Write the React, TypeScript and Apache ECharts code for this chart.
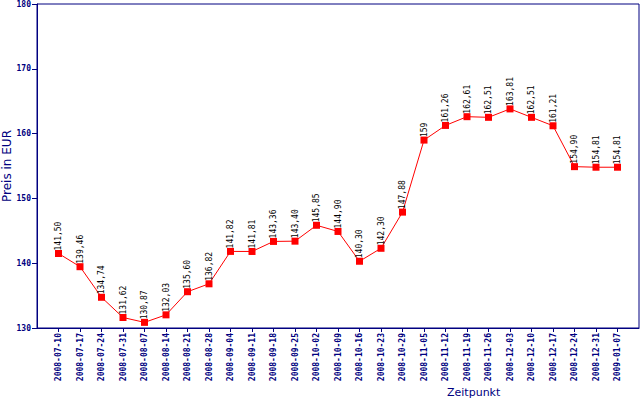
import React, { useEffect, useRef } from "react";
import * as echarts from "echarts";

const dates = [
  "2008-07-10", "2008-07-17", "2008-07-24", "2008-07-31", "2008-08-07", "2008-08-14",
  "2008-08-21", "2008-08-28", "2008-09-04", "2008-09-11", "2008-09-18", "2008-09-25",
  "2008-10-02", "2008-10-09", "2008-10-16", "2008-10-23", "2008-10-29", "2008-11-05",
  "2008-11-12", "2008-11-19", "2008-11-26", "2008-12-03", "2008-12-10", "2008-12-17",
  "2008-12-24", "2008-12-31", "2009-01-07",
];
const prices = [
  141.5, 139.46, 134.74, 131.62, 130.87, 132.03, 135.6, 136.82, 141.82, 141.81,
  143.36, 143.4, 145.85, 144.9, 140.3, 142.3, 147.88, 159, 161.26, 162.61,
  162.51, 163.81, 162.51, 161.21, 154.9, 154.81, 154.81,
];
const priceLabels = [
  "141,50", "139,46", "134,74", "131,62", "130,87", "132,03", "135,60", "136,82",
  "141,82", "141,81", "143,36", "143,40", "145,85", "144,90", "140,30", "142,30",
  "147,88", "159", "161,26", "162,61", "162,51", "163,81", "162,51", "161,21",
  "154,90", "154,81", "154,81",
];
const yTitle = "Preis in EUR";
const xTitle = "Zeitpunkt";

const NAVY = "#000080";

export default function App() {
  const ref = useRef<HTMLDivElement>(null);
  useEffect(() => {
    if (!ref.current) return;
    const chart = echarts.init(ref.current, null, { renderer: "svg" });
    const cats = ["", ...dates, ""];
    const data = ["-", ...prices, "-"];
    const labelData = prices.map((v, i) => [i + 1, v, priceLabels[i]]);
    chart.setOption({
      animation: false,
      backgroundColor: "#ffffff",
      grid: {
        left: 37, top: 4, right: 1, bottom: 72,
        containLabel: false,
        outerBoundsMode: "none",
        show: true, borderColor: NAVY, borderWidth: 1, backgroundColor: "transparent",
      },
      xAxis: {
        type: "category",
        data: cats,
        boundaryGap: false,
        axisLine: { lineStyle: { color: NAVY, width: 1 } },
        axisTick: {
          length: 4,
          lineStyle: { color: NAVY },
          interval: (i: number) => i > 0 && i < cats.length - 1,
        },
        axisLabel: {
          interval: 0,
          rotate: 90,
          margin: 5,
          color: NAVY,
          fontFamily: "DejaVu Sans Mono",
          fontSize: 8,
          fontWeight: "bold",
        },
        splitLine: { show: false },
      },
      yAxis: {
        type: "value",
        min: 130,
        max: 180,
        interval: 10,
        axisLine: { show: true, lineStyle: { color: NAVY, width: 1 } },
        axisTick: { show: true, length: 5, lineStyle: { color: NAVY } },
        axisLabel: {
          margin: 6,
          color: NAVY,
          fontFamily: "DejaVu Sans Mono",
          fontSize: 8,
          fontWeight: "bold",
        },
        splitLine: { show: false },
      },
      graphic: [
        {
          type: "text",
          left: 447,
          top: 387,
          style: {
            text: xTitle,
            fill: NAVY,
            font: "11px 'DejaVu Sans'",
          },
        },
        {
          type: "text",
          x: 7,
          y: 166,
          rotation: Math.PI / 2,
          style: {
            text: yTitle,
            fill: NAVY,
            font: "12px 'DejaVu Sans'",
            align: "center",
            verticalAlign: "middle",
          },
        },
      ],
      series: [
        {
          type: "line",
          data,
          symbol: "rect",
          symbolSize: 7,
          itemStyle: { color: "#ff0000" },
          lineStyle: { color: "#ff0000", width: 1 },
          z: 2,
        },
        {
          type: "custom",
          data: labelData,
          z: 3,
          renderItem: (params: any, api: any) => {
            const pt = api.coord([api.value(0), api.value(1)]);
            return {
              type: "group",
              x: pt[0],
              y: pt[1] - 3,
              rotation: Math.PI / 2,
              children: [
                {
                  type: "text",
                  x: 0,
                  y: 0,
                  style: {
                    text: String(labelData[params.dataIndex][2]),
                    fill: "#000000",
                    font: "8px 'DejaVu Sans Mono'",
                    align: "left",
                    verticalAlign: "middle",
                  },
                },
              ],
            };
          },
        },
      ],
    });
    return () => chart.dispose();
  }, []);
  return (
    <div
      ref={ref}
      style={{ position: "fixed", left: 0, top: 0, width: 640, height: 400 }}
    />
  );
}
